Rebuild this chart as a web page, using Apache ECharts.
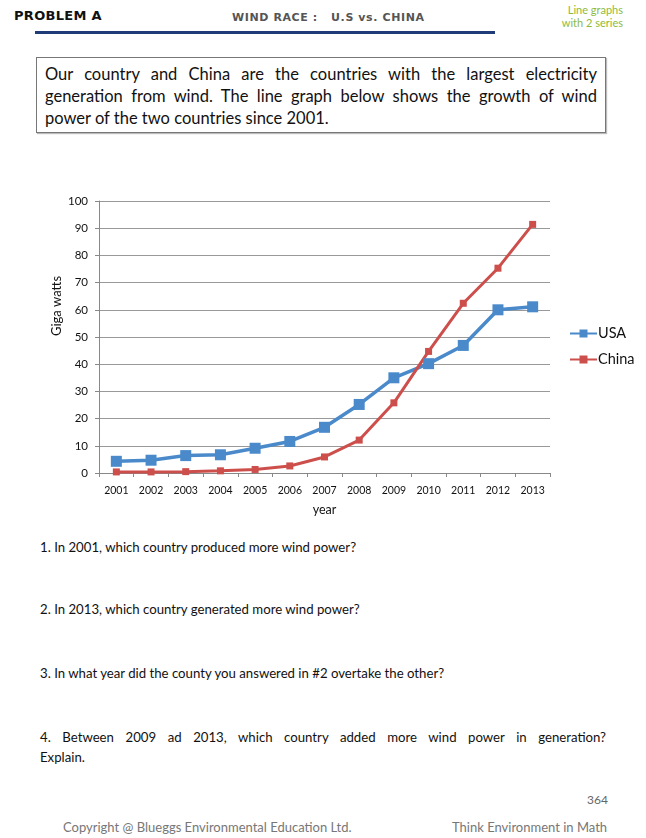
<!DOCTYPE html>
<html>
<head>
<meta charset="utf-8">
<script src="https://cdn.jsdelivr.net/npm/echarts@6/dist/echarts.min.js"></script>
<style>
  html, body { margin:0; padding:0; background:#fff; width:646px; height:838px; overflow:hidden; }
  body { position:relative; font-family: Lato, "Open Sans", sans-serif; color:#111; }
  .abs { position:absolute; white-space:nowrap; }
  #chart { position:absolute; left:0; top:180px; width:646px; height:350px; }
  .q { font:13.2px Lato,sans-serif; }
</style>
</head>
<body>
<div class="abs" style="left:14px;top:8px;font:bold 13px 'DejaVu Sans',sans-serif;letter-spacing:0.3px;">PROBLEM A</div>
<div class="abs" style="left:232px;top:11px;font:bold 11px 'DejaVu Sans',sans-serif;color:#555;letter-spacing:0.6px;">WIND RACE :&nbsp;&nbsp; U.S vs. CHINA</div>
<div class="abs" style="right:23px;top:3px;font:11px Lato,sans-serif;color:#8dbb3c;text-align:right;line-height:13px;">Line graphs<br>with 2 series</div>
<div class="abs" style="left:35px;top:31px;width:460px;height:2.5px;background:#1f3c78;"></div>

<div class="abs" style="left:36px;top:57px;width:552px;height:62px;border:1px solid #777;box-shadow:1px 1px 1px #bbb;padding:5px 8px 7px 8px;white-space:normal;font:16.5px Lato,'Open Sans',sans-serif;line-height:22px;text-align:justify;text-align-last:left;">Our country and China are the countries with the largest electricity generation from wind. The line graph below shows the growth of wind power of the two countries since 2001.</div>

<div id="chart"></div>

<div class="abs q" style="left:40px;top:539px;">1. In 2001, which country produced more wind power?</div>
<div class="abs q" style="left:40px;top:601px;">2. In 2013, which country generated more wind power?</div>
<div class="abs q" style="left:40px;top:665px;">3. In what year did the county you answered in #2 overtake the other?</div>
<div class="abs q" style="left:40px;top:729px;width:566px;white-space:normal;text-align:justify;text-align-last:justify;">4. Between 2009 ad 2013, which country added more wind power in generation?</div>
<div class="abs q" style="left:40px;top:749px;">Explain.</div>

<div class="abs" style="right:38px;top:792px;font:12px Lato,sans-serif;color:#666;">364</div>
<div class="abs" style="left:63px;top:819px;font:13px Lato,sans-serif;color:#777;">Copyright @ Blueggs Environmental Education Ltd.</div>
<div class="abs" style="left:452px;top:819px;font:13px Lato,sans-serif;color:#777;">Think Environment in Math</div>

<script>
const years = ['2001','2002','2003','2004','2005','2006','2007','2008','2009','2010','2011','2012','2013'];
const usa   = [4.3, 4.7, 6.4, 6.7, 9.1, 11.6, 16.8, 25.2, 35.0, 40.2, 46.9, 60.0, 61.1];
const china = [0.4, 0.4, 0.5, 0.8, 1.3, 2.6, 5.9, 12.1, 25.8, 44.7, 62.4, 75.3, 91.4];
const yTicks = { min: 0, max: 100, interval: 10 };

const chart = echarts.init(document.getElementById('chart'));
const fam = 'Lato, "Open Sans", sans-serif';
chart.setOption({
  animation: false,
  grid: { left: 99, right: 96, top: 21, bottom: 57 },
  legend: {
    orient: 'vertical', left: 564, top: 141, itemGap: 11,
    itemWidth: 27, itemHeight: 10,
    textStyle: { fontSize: 14.5, fontFamily: fam, color: '#111', padding: [0,0,0,-4] },
    data: ['USA', 'China']
  },
  graphic: [{
    type: 'text', x: 57, y: 126, rotation: Math.PI / 2,
    style: { text: 'Giga watts', font: '13px ' + fam, fill: '#111', align: 'center', verticalAlign: 'middle' }
  }],
  xAxis: {
    type: 'category', data: years, boundaryGap: true,
    name: 'year', nameLocation: 'middle', nameGap: 30,
    nameTextStyle: { fontSize: 12.5, fontFamily: fam, color: '#111' },
    axisLine: { lineStyle: { color: '#888' } },
    axisTick: { show: true, length: 4, lineStyle: { color: '#888' } },
    axisLabel: { fontSize: 10.5, fontFamily: fam, color: '#111', margin: 12, interval: 0 }
  },
  yAxis: {
    type: 'value', min: yTicks.min, max: yTicks.max, interval: yTicks.interval,
    axisLine: { show: true, lineStyle: { color: '#888' } },
    axisTick: { show: true, length: 4, lineStyle: { color: '#888' } },
    axisLabel: { fontSize: 11.5, fontFamily: fam, color: '#111', margin: 11 },
    splitLine: { lineStyle: { color: '#999' } }
  },
  series: [
    { name: 'USA', type: 'line', data: usa, symbol: 'rect', symbolSize: 11,
      lineStyle: { width: 3.5, color: '#4a8acb' }, itemStyle: { color: '#4a8acb' } },
    { name: 'China', type: 'line', data: china, symbol: 'rect', symbolSize: 7,
      lineStyle: { width: 3, color: '#cd4f4c' }, itemStyle: { color: '#cd4f4c' } }
  ]
});
</script>
</body>
</html>
